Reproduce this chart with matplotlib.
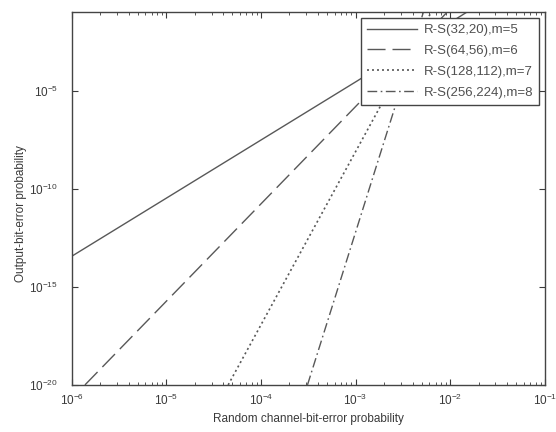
import matplotlib
matplotlib.use("Agg")
import matplotlib.pyplot as plt
from matplotlib.ticker import LogLocator, NullLocator, NullFormatter

plt.rcParams['font.family'] = ['Liberation Sans', 'DejaVu Sans']
plt.rcParams['mathtext.default'] = 'regular'
plt.rcParams['axes.unicode_minus'] = False

# Data (log-log straight segments)
labels = ["R-S(32,20),m=5", "R-S(64,56),m=6", "R-S(128,112),m=7", "R-S(256,224),m=8"]

x_rs32 = [1e-6, 1.05e-3, 1.5e-2]
y_rs32 = [3.6e-14, 3.2e-5, 1e-1]

x_rs64 = [1.38e-6, 1.02e-3, 9.3e-3]
y_rs64 = [1e-20, 1.7e-6, 1e-1]

x_rs128 = [4.5e-5, 1.8e-3, 6.3e-3]
y_rs128 = [1e-20, 1.4e-6, 1e-1]

x_rs256 = [3.1e-4, 2.6e-3, 5.2e-3]
y_rs256 = [1e-20, 1.4e-6, 1e-1]

xticks = [1e-6, 1e-5, 1e-4, 1e-3, 1e-2, 1e-1]
yticks = [1e-20, 1e-15, 1e-10, 1e-5]

col = "#585858"
txt = "#3a3a3a"

fig = plt.figure(figsize=(5.56, 4.32), dpi=100)
ax = fig.add_axes([0.129, 0.109, 0.851, 0.863])

ax.loglog(x_rs32, y_rs32, '-', color=col, lw=1.0, label=labels[0])
ax.loglog(x_rs64, y_rs64, color=col, lw=1.0, dashes=(13, 5), label=labels[1])
ax.loglog(x_rs128, y_rs128, color=col, lw=1.2, dashes=(1.2, 1.8), label=labels[2])
ax.loglog(x_rs256, y_rs256, color=col, lw=1.0, dashes=(7, 2.5, 1.2, 2.5), label=labels[3])

ax.set_xlim(1e-6, 1e-1)
ax.set_ylim(1e-20, 1e-1)
ax.set_xticks(xticks)
ax.set_yticks(yticks)
ax.xaxis.set_minor_locator(LogLocator(base=10, subs=range(2, 10), numticks=20))
ax.xaxis.set_minor_formatter(NullFormatter())
ax.yaxis.set_minor_locator(NullLocator())

ax.tick_params(which='both', direction='in', top=True, right=True,
               colors=txt, labelsize=8.5)
ax.tick_params(which='major', length=4)
ax.tick_params(axis='x', which='major', pad=6)
ax.tick_params(axis='y', which='major', pad=10)
ax.tick_params(which='minor', length=2.5)
for s in ax.spines.values():
    s.set_color("#444444")
    s.set_linewidth(1.0)

ax.set_xlabel("Random channel-bit-error probability", fontsize=8.5, color=txt, labelpad=3)
ax.set_ylabel("Output-bit-error probability", fontsize=8.5, color=txt)
ax.yaxis.set_label_coords(-0.095, 0.46)

leg = ax.legend(loc='upper right', fontsize=9.5, frameon=True, fancybox=False,
                framealpha=1.0, handlelength=3.8, borderaxespad=0.45,
                labelspacing=0.65, borderpad=0.45, handletextpad=0.5)
leg.get_frame().set_edgecolor("#444444")
leg.get_frame().set_linewidth(1.0)
for t in leg.get_texts():
    t.set_color("#505050")

fig.savefig("out.png", dpi=100)
